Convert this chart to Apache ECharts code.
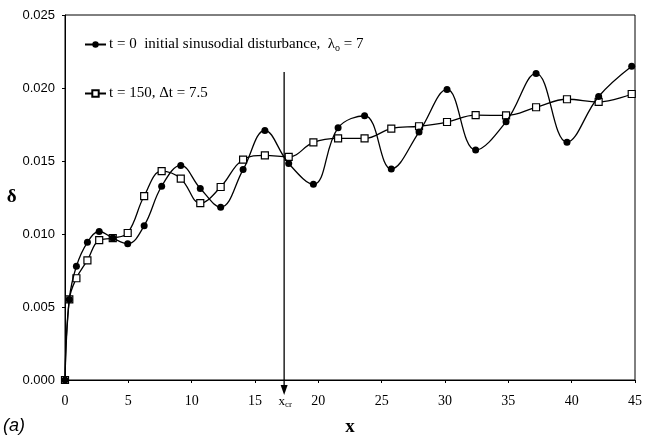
<!DOCTYPE html>
<html>
<head>
<meta charset="utf-8">
<script src="https://cdn.jsdelivr.net/npm/echarts@6/dist/echarts.min.js"></script>
<style>html,body{margin:0;padding:0;background:#fff}#c{width:645px;height:442px}</style>
</head>
<body>
<div id="c"></div>
<script>
var xValues = [0, 0.34, 0.9, 1.77, 2.7, 3.77, 4.95, 6.25, 7.63, 9.14, 10.68, 12.29, 14.06, 15.78, 17.66, 19.61, 21.56, 23.65, 25.76, 27.95, 30.16, 32.42, 34.82, 37.19, 39.63, 42.13, 44.74];
var deltaT0 = [0, 0.00552, 0.00779, 0.00943, 0.01017, 0.00972, 0.00934, 0.01057, 0.01327, 0.01470, 0.01312, 0.01184, 0.01441, 0.01709, 0.01483, 0.01340, 0.01727, 0.01810, 0.01446, 0.01698, 0.01990, 0.01575, 0.01769, 0.02100, 0.01629, 0.01942, 0.02149];
var deltaT150 = [0, 0.00552, 0.00697, 0.00820, 0.00958, 0.00972, 0.01007, 0.01260, 0.01430, 0.01379, 0.01211, 0.01322, 0.01510, 0.01539, 0.01528, 0.01627, 0.01655, 0.01655, 0.01722, 0.01738, 0.01767, 0.01814, 0.01812, 0.01868, 0.01923, 0.01905, 0.01959];
var xTicks = [0, 5, 10, 15, 20, 25, 30, 35, 40, 45];
var yTicks = [0.000, 0.005, 0.010, 0.015, 0.020, 0.025];
var xcr = 17.3;
var xcrTop = 0.0211;
var seriesNames = ['t = 0  initial sinusodial disturbance,  λ{sub|o} = 7', 't = 150, Δt = 7.5'];

function pairs(xs, ys) { return xs.map(function (x, i) { return [x, ys[i]]; }); }

var serif = '"Liberation Serif", "Times New Roman", serif';
var sans = '"Liberation Sans", Arial, sans-serif';
var chart = echarts.init(document.getElementById('c'), null, {renderer: 'canvas'});
chart.setOption({
  animation: false,
  backgroundColor: '#fff',
  grid: {left: 65, right: 4, top: 15, bottom: 54, show: true, borderColor: '#000', borderWidth: 1},
  legend: {
    left: 79, top: 32, orient: 'vertical', itemGap: 33, itemWidth: 21, itemHeight: 8,
    data: [{name: seriesNames[0]}, {name: seriesNames[1]}],
    formatter: function (n) { return n; },
    textStyle: {fontFamily: serif, fontSize: 15, color: '#000', padding: [0, 0, 0, -2],
      rich: {sub: {fontFamily: serif, fontSize: 10, color: '#000', padding: [7, 0, 0, 0]}}}
  },
  xAxis: {
    type: 'value', min: 0, max: 45, interval: 5,
    name: 'x', nameLocation: 'middle', nameGap: 38,
    nameTextStyle: {fontFamily: serif, fontSize: 19, fontWeight: 'bold', color: '#000'},
    axisLine: {lineStyle: {color: '#000', width: 1}},
    axisTick: {show: true, length: 3, inside: false, lineStyle: {color: '#000'}},
    axisLabel: {fontFamily: serif, fontSize: 14, color: '#000', margin: 14,
      formatter: function (v) { return xTicks.indexOf(v) >= 0 ? String(v) : ''; }},
    splitLine: {show: false}
  },
  yAxis: {
    type: 'value', min: 0, max: 0.025, interval: 0.005,
    name: 'δ', nameLocation: 'middle', nameGap: 47, nameRotate: 0,
    nameTextStyle: {fontFamily: serif, fontSize: 19, fontWeight: 'bold', color: '#000', padding: [6, 0, 0, 0]},
    axisLine: {show: true, lineStyle: {color: '#000', width: 1}},
    axisTick: {show: true, length: 3, lineStyle: {color: '#000'}},
    axisLabel: {fontFamily: sans, fontSize: 13, color: '#000', margin: 10,
      formatter: function (v) {
        var i = yTicks.findIndex(function (t) { return Math.abs(t - v) < 1e-9; });
        return i >= 0 ? yTicks[i].toFixed(3) : '';
      }},
    splitLine: {show: false}
  },
  series: [
    {
      name: seriesNames[0], type: 'line', smooth: 0.4, z: 4,
      data: pairs(xValues, deltaT0),
      symbol: 'circle', symbolSize: 7,
      itemStyle: {color: '#000', borderColor: '#000', borderWidth: 0},
      lineStyle: {color: '#000', width: 1.3}
    },
    {
      name: seriesNames[1], type: 'line', smooth: 0.4, z: 3,
      data: pairs(xValues, deltaT150),
      symbol: 'rect', symbolSize: 7,
      itemStyle: {color: '#fff', borderColor: '#000', borderWidth: 1.2},
      lineStyle: {color: '#000', width: 1.3}
    }
  ]
});

var pTop = chart.convertToPixel({gridIndex: 0}, [xcr, xcrTop]);
var pBase = chart.convertToPixel({gridIndex: 0}, [xcr, 0]);
var tipY = pBase[1] + 15;
chart.setOption({
  graphic: [
    {type: 'line', shape: {x1: pTop[0], y1: pTop[1], x2: pBase[0], y2: tipY - 6}, style: {stroke: '#000', lineWidth: 1.3}, z: 100},
    {type: 'polygon', shape: {points: [[pBase[0] - 3.5, tipY - 10], [pBase[0] + 3.5, tipY - 10], [pBase[0], tipY]]}, style: {fill: '#000'}, z: 100},
    {type: 'text', x: pBase[0] + 1, y: tipY - 1, style: {text: 'x{s|cr}', fontFamily: serif, fontSize: 13, fill: '#000', align: 'center', verticalAlign: 'top',
      rich: {s: {fontFamily: serif, fontSize: 9, fill: '#000', padding: [6, 0, 0, 0]}}}, z: 100},
    {type: 'text', left: 3, top: 417, style: {text: '(a)', fontFamily: sans, fontSize: 18, fontStyle: 'italic', fill: '#000'}}
  ]
});
</script>
</body>
</html>
